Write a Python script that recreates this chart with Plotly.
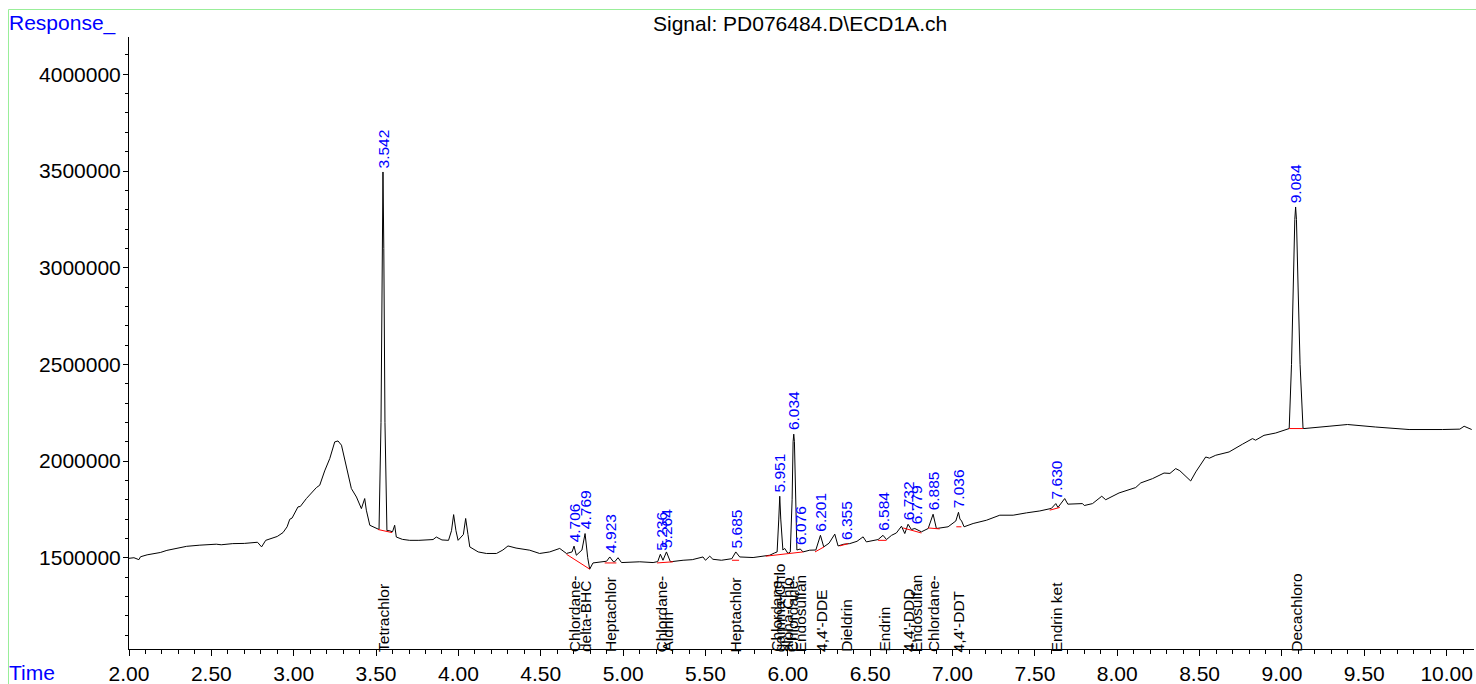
import plotly.graph_objects as go

# ---------------- data ----------------
time_min = [
    2.000, 2.030, 2.060, 2.070, 2.110, 2.150, 2.190, 2.230, 2.290, 2.350, 2.430, 2.530, 2.560,
    2.630, 2.700, 2.780, 2.805, 2.830, 2.900, 2.935, 2.960, 2.976, 2.990, 3.026, 3.040, 3.077,
    3.138, 3.158, 3.188, 3.219, 3.249, 3.269, 3.290, 3.320, 3.350, 3.381, 3.411, 3.431, 3.441,
    3.462, 3.490, 3.518, 3.530, 3.537, 3.542, 3.547, 3.554, 3.566, 3.580, 3.600, 3.613, 3.623,
    3.660, 3.704, 3.760, 3.846, 3.866, 3.900, 3.940, 3.958, 3.971, 3.985, 3.998, 4.030, 4.044,
    4.058, 4.069, 4.120, 4.170, 4.231, 4.270, 4.301, 4.350, 4.433, 4.493, 4.554, 4.615, 4.656,
    4.690, 4.702, 4.716, 4.750, 4.769, 4.785, 4.797, 4.817, 4.878, 4.900, 4.919, 4.940, 4.949,
    4.969, 4.990, 5.050, 5.101, 5.182, 5.210, 5.226, 5.242, 5.263, 5.287, 5.364, 5.420, 5.485,
    5.500, 5.526, 5.545, 5.597, 5.660, 5.684, 5.708, 5.789, 5.850, 5.890, 5.920, 5.935, 5.945,
    5.951, 5.957, 5.970, 5.981, 6.001, 6.015, 6.026, 6.032, 6.036, 6.040, 6.046, 6.055, 6.076,
    6.092, 6.133, 6.170, 6.198, 6.218, 6.250, 6.285, 6.305, 6.340, 6.376, 6.420, 6.457, 6.477,
    6.548, 6.578, 6.599, 6.630, 6.659, 6.690, 6.710, 6.730, 6.750, 6.771, 6.811, 6.852, 6.882,
    6.902, 6.973, 7.020, 7.036, 7.045, 7.055, 7.070, 7.125, 7.206, 7.287, 7.368, 7.449, 7.530,
    7.600, 7.627, 7.640, 7.681, 7.700, 7.742, 7.789, 7.800, 7.850, 7.906, 7.930, 8.011, 8.112,
    8.143, 8.214, 8.284, 8.320, 8.355, 8.380, 8.446, 8.477, 8.537, 8.560, 8.598, 8.679, 8.760,
    8.821, 8.840, 8.891, 8.962, 9.033, 9.044, 9.058, 9.068, 9.078, 9.083, 9.088, 9.098, 9.110,
    9.128, 9.134, 9.286, 9.398, 9.569, 9.772, 9.974, 10.080, 10.106, 10.152,
]
response = [
    1497000, 1500000, 1490000, 1505000, 1515000, 1522000, 1527000, 1538000, 1550000, 1559000, 1565000, 1570000, 1567000,
    1573000, 1574000, 1580000, 1556000, 1590000, 1610000, 1630000, 1660000, 1699000, 1705000, 1763000, 1765000, 1806000,
    1863000, 1875000, 1949000, 2013000, 2099000, 2104000, 2082000, 1978000, 1858000, 1814000, 1754000, 1806000, 1746000,
    1668000, 1655000, 1646000, 2200000, 3100000, 3495000, 3100000, 2200000, 1640000, 1640000, 1634000, 1668000, 1607000,
    1595000, 1590000, 1590000, 1594000, 1607000, 1592000, 1590000, 1640000, 1723000, 1640000, 1590000, 1620000, 1703000,
    1620000, 1556000, 1530000, 1522000, 1522000, 1540000, 1561000, 1550000, 1539000, 1522000, 1530000, 1548000, 1522000,
    1530000, 1560000, 1513000, 1540000, 1625000, 1500000, 1441000, 1473000, 1479000, 1482000, 1504000, 1480000, 1479000,
    1500000, 1475000, 1476000, 1479000, 1475000, 1480000, 1518000, 1487000, 1530000, 1479000, 1487000, 1490000, 1504000,
    1487000, 1508000, 1492000, 1487000, 1495000, 1530000, 1504000, 1501000, 1508000, 1513000, 1525000, 1530000, 1700000,
    1818000, 1700000, 1540000, 1548000, 1522000, 1530000, 1800000, 2100000, 2139000, 2100000, 1800000, 1540000, 1545000,
    1530000, 1539000, 1540000, 1616000, 1556000, 1575000, 1622000, 1561000, 1570000, 1573000, 1585000, 1608000, 1582000,
    1594000, 1616000, 1594000, 1616000, 1628000, 1663000, 1625000, 1673000, 1646000, 1651000, 1634000, 1651000, 1725000,
    1651000, 1660000, 1690000, 1735000, 1700000, 1690000, 1660000, 1677000, 1694000, 1720000, 1720000, 1732000, 1742000,
    1755000, 1780000, 1760000, 1806000, 1777000, 1777000, 1780000, 1770000, 1780000, 1818000, 1800000, 1835000, 1863000,
    1887000, 1909000, 1938000, 1936000, 1961000, 1950000, 1897000, 1944000, 2021000, 2015000, 2030000, 2047000, 2087000,
    2116000, 2108000, 2133000, 2145000, 2163000, 2168000, 2500000, 2900000, 3250000, 3314000, 3250000, 2900000, 2500000,
    2170000, 2168000, 2180000, 2189000, 2176000, 2163000, 2163000, 2165000, 2180000, 2163000,
]

# integration baselines (red)
base_t0 = [3.512, 4.656, 4.888, 5.206, 5.661, 5.866, 6.165, 6.315, 6.548, 6.700, 6.852, 7.023, 7.590, 9.044]
base_v0 = [1646000, 1518000, 1473000, 1473000, 1487000, 1508000, 1530000, 1561000, 1590000, 1654000, 1654000, 1660000, 1746000, 2168000]
base_t1 = [3.597, 4.797, 4.959, 5.303, 5.704, 6.092, 6.220, 6.366, 6.599, 6.811, 6.922, 7.054, 7.651, 9.128]
base_v1 = [1630000, 1441000, 1473000, 1479000, 1487000, 1530000, 1556000, 1573000, 1590000, 1628000, 1649000, 1660000, 1760000, 2168000]

# retention time labels (blue)
peak_rt = [3.542, 4.706, 4.769, 4.923, 5.236, 5.264, 5.685, 5.951, 6.034, 6.076, 6.201, 6.355,
           6.584, 6.732, 6.779, 6.885, 7.036, 7.630, 9.084]

# compound names (black, at axis)
compound_rt = [3.542, 4.706, 4.769, 4.923, 5.236, 5.264, 5.685, 5.930, 5.951, 6.000, 6.030, 6.076,
               6.201, 6.355, 6.584, 6.732, 6.779, 6.885, 7.036, 7.630, 9.084]
compound_names = ["Tetrachlor", "Chlordane-", "delta-BHC", "Heptachlor", "Chlordane-", "Aldrin",
                  "Heptachlor", "Chlordane-", "gamma-Chlo", "alpha-Chlo", "Chlordane-", "Endosulfan",
                  "4,4'-DDE", "Dieldrin", "Endrin", "4,4'-DDD", "Endosulfan", "Chlordane-",
                  "4,4'-DDT", "Endrin ket", "Decachloro"]

y_ticks = [1500000, 2000000, 2500000, 3000000, 3500000, 4000000]

# ---------------- layout geometry ----------------
W, H = 1476, 684
L, R, T, B = 129, 2, 37, 35
PW, PH = W - L - R, H - T - B
FONT = "Arial, Liberation Sans, sans-serif"


def px_x(px):
    return (px - L) / PW


def px_y(py):
    return (H - B - py) / PH


fig = go.Figure()
fig.add_trace(go.Scatter(x=time_min, y=response, mode="lines",
                         line=dict(color="black", width=1), hoverinfo="skip", showlegend=False))

for a, va, b, vb in zip(base_t0, base_v0, base_t1, base_v1):
    fig.add_trace(go.Scatter(x=[a, b], y=[va, vb], mode="lines",
                             line=dict(color="red", width=1), hoverinfo="skip", showlegend=False))

annotations = []


def apex(rt, win=0.012):
    vals = [v for t, v in zip(time_min, response) if abs(t - rt) <= win]
    if not vals:
        best = min(range(len(time_min)), key=lambda i: abs(time_min[i] - rt))
        return response[best]
    return max(vals)


for rt in peak_rt:
    annotations.append(dict(x=rt, y=apex(rt), xref="x", yref="y", text=f"{rt:.3f}",
                            showarrow=False, textangle=-90, xanchor="center", yanchor="bottom",
                            yshift=2, font=dict(family=FONT, size=15.5, color="#0000ff")))

for rt, name in zip(compound_rt, compound_names):
    annotations.append(dict(x=rt, y=0, xref="x", yref="paper", text=name,
                            showarrow=False, textangle=-90, xanchor="center", yanchor="bottom",
                            yshift=-5, font=dict(family=FONT, size=15.5, color="black")))

annotations.append(dict(x=px_x(7), y=px_y(9), xref="paper", yref="paper", text="Response_",
                        showarrow=False, xanchor="left", yanchor="top",
                        font=dict(family=FONT, size=21, color="#0000ff")))
annotations.append(dict(x=px_x(7), y=px_y(686), xref="paper", yref="paper", text="Time",
                        showarrow=False, xanchor="left", yanchor="bottom",
                        font=dict(family=FONT, size=21, color="#0000ff")))
annotations.append(dict(x=px_x(800), y=px_y(10), xref="paper", yref="paper",
                        text="Signal: PD076484.D\\ECD1A.ch",
                        showarrow=False, xanchor="center", yanchor="top",
                        font=dict(family=FONT, size=21, color="black")))

shapes = [dict(type="rect", xref="paper", yref="paper",
               x0=px_x(8.5), x1=px_x(1490), y0=px_y(700), y1=px_y(9.5),
               line=dict(color="#99ee99", width=1), fillcolor="rgba(0,0,0,0)", layer="below")]

fig.update_layout(
    template="none",
    width=W, height=H,
    margin=dict(l=L, r=R, t=T, b=B, pad=0, autoexpand=False),
    paper_bgcolor="white", plot_bgcolor="white",
    showlegend=False,
    annotations=annotations,
    shapes=shapes,
    font=dict(family=FONT, size=21, color="black"),
)
fig.update_xaxes(range=[2.0, 10.166], showgrid=False, zeroline=False, automargin=False,
                 showline=True, linecolor="black", linewidth=1,
                 ticks="outside", ticklen=6, tickcolor="black", tickwidth=1,
                 tick0=2.0, dtick=0.5, tickformat=".2f", ticklabelstandoff=0,
                 tickfont=dict(family=FONT, size=21, color="black"),
                 minor=dict(ticks="outside", ticklen=4, dtick=0.1, tick0=2.0, tickcolor="black", showgrid=False))
fig.update_yaxes(range=[1028000, 4193000], showgrid=False, zeroline=False, automargin=False,
                 showline=True, linecolor="black", linewidth=1,
                 ticks="outside", ticklen=5, tickcolor="black", tickwidth=1,
                 tickvals=y_ticks, ticktext=[str(v) for v in y_ticks], ticklabelstandoff=-2,
                 tickfont=dict(family=FONT, size=21, color="black"),
                 minor=dict(ticks="outside", ticklen=3, dtick=100000, tick0=0, tickcolor="black", showgrid=False))

fig.write_html("out.html", config={"displayModeBar": False},
               post_script="document.body.style.margin='0';document.body.style.overflow='hidden';")
